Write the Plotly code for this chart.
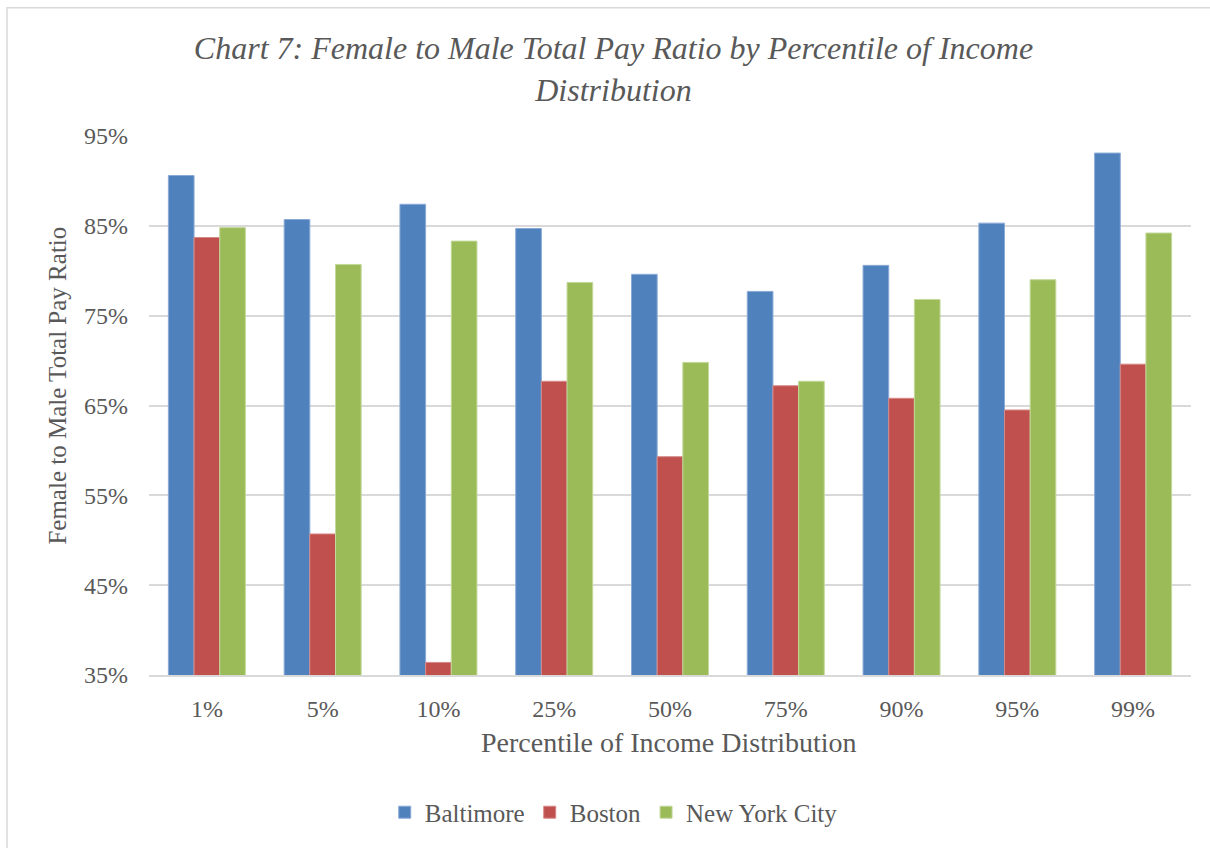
import plotly.graph_objects as go

categories = ["1%", "5%", "10%", "25%", "50%", "75%", "90%", "95%", "99%"]
baltimore = [90.6, 85.7, 87.4, 84.7, 79.6, 77.7, 80.6, 85.3, 93.1]
boston = [83.7, 50.7, 36.4, 67.7, 59.3, 67.2, 65.8, 64.5, 69.6]
nyc = [84.8, 80.7, 83.3, 78.7, 69.8, 67.7, 76.8, 79.0, 84.2]
y_ticks = [35, 45, 55, 65, 75, 85, 95]
y_tick_labels = [f"{v}%" for v in y_ticks]

FONT = "Liberation Serif"
TXT = "#595959"

fig = go.Figure()
for name, vals, col, lc in [
    ("Baltimore", baltimore, "#4F81BD", "#8AAAD6"),
    ("Boston", boston, "#C0504D", "#D58A88"),
    ("New York City", nyc, "#9BBB59", "#C3D89A"),
]:
    fig.add_trace(go.Bar(x=categories, y=vals, name=name,
                         marker=dict(color=col, line=dict(color=lc, width=1))))

fig.update_layout(
    width=1210, height=848,
    margin=dict(l=149, r=19, t=136, b=171),
    paper_bgcolor="white", plot_bgcolor="white",
    barmode="group", bargap=0.335, bargroupgap=0,
    font=dict(family=FONT, size=24, color=TXT),
    title=dict(
        text="Chart 7: Female to Male Total Pay Ratio by Percentile of Income<br>Distribution",
        font=dict(family=FONT, size=32, color=TXT, style="italic"),
        x=0.507, xanchor="center", xref="container",
        y=1 - 59 / 848, yanchor="top", yref="container",
    ),
    xaxis=dict(showgrid=False, showline=True, linecolor="#D9D9D9", linewidth=1.5,
               ticks="", ticklabelstandoff=11,
               tickfont=dict(family=FONT, size=24, color=TXT)),
    yaxis=dict(range=[35, 95], tickvals=y_ticks, ticktext=y_tick_labels,
               showgrid=True, gridcolor="#D9D9D9", gridwidth=1.5,
               zeroline=False, showline=False, ticks="", ticklabelstandoff=20,
               tickfont=dict(family=FONT, size=24, color=TXT)),
    showlegend=True,
    legend=dict(orientation="h", x=0.446, xanchor="center", y=-0.255, yanchor="middle",
                font=dict(family=FONT, size=25, color=TXT), traceorder="normal"),
    annotations=[
        dict(text="Percentile of Income Distribution", xref="paper", yref="paper",
             x=0.499, y=-0.126, xanchor="center", yanchor="middle", showarrow=False,
             font=dict(family=FONT, size=28, color=TXT)),
        dict(text="Female to Male Total Pay Ratio", xref="paper", yref="paper",
             x=-0.0873, y=0.537, xanchor="center", yanchor="middle", showarrow=False,
             textangle=-90, font=dict(family=FONT, size=25, color=TXT)),
    ],
    shapes=[dict(type="rect", xref="paper", yref="paper",
                 x0=-0.1363, x1=1.2, y0=-0.6, y1=(677 - 8) / 540.5,
                 line=dict(color="#D9D9D9", width=1.5), layer="below")],
)

fig.write_html("out.html", config={"displayModeBar": False},
               post_script="document.body.style.margin='0';")
